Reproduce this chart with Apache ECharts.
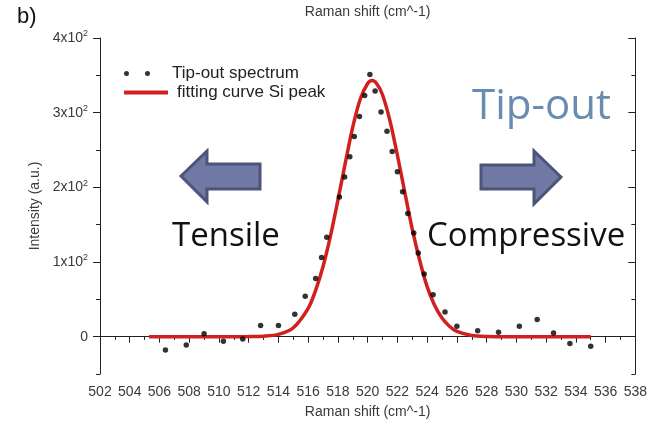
<!DOCTYPE html>
<html>
<head>
<meta charset="utf-8">
<script src="https://cdn.jsdelivr.net/npm/echarts@6/dist/echarts.min.js"></script>
<style>
  html, body { margin: 0; padding: 0; background: #fff; }
  #chart { width: 650px; height: 425px; }
</style>
</head>
<body>
<div id="chart"></div>
<script>
// Measured Raman spectrum (tip retracted)
const spectrumX = [506.4, 507.8, 509.0, 510.3, 511.6, 512.8, 514.0, 515.1, 515.8, 516.5, 516.9, 517.25,
  518.1, 518.45, 518.8, 519.1, 519.45, 519.8, 520.15, 520.5, 520.9, 521.3, 521.65, 522.0, 522.35,
  522.7, 523.1, 523.4, 523.8, 524.4, 525.2, 526.0, 527.4, 528.8, 530.2, 531.4, 532.5, 533.6, 535.0];
const spectrumY = [-18, -11, 4, -6, -3, 15, 15, 30, 54, 78, 106, 133,
  187, 214, 241, 268, 295, 323, 351, 329, 301, 275, 248, 221, 194,
  165, 139, 112, 84, 56, 33, 14, 8, 6, 14, 23, 5, -9, -13];

// Fitted Si peak
const fitX = [505.3, 511, 512, 513, 514, 515, 516, 516.5, 517, 517.5, 518, 518.5, 519, 519.5, 520,
  520.3, 520.6, 521, 521.5, 522, 522.5, 523, 523.5, 524, 524.5, 525, 525.5, 526, 527, 528, 529, 535];
const fitY = [0, 0, 0.1, 0.6, 3, 12, 38, 62, 94, 135, 183, 233, 281, 318, 339,
  343, 339, 324, 289, 243, 193, 144, 102, 67, 42, 25, 14, 7, 1.6, 0.2, 0, 0];

// Axis ticks
const yMajorTicks = [0, 100, 200, 300, 400];
const yMinorTicks = [-50, 50, 150, 250, 350];
const xRange = [502, 538];
const yRange = [-50, 400];

const seriesNames = ['Tip-out spectrum', 'fitting curve Si peak'];

const axisFont = 'Liberation Sans, Arial, sans-serif';
const axisColor = '#222';
const labelColor = '#3a3a3a';

function yLabel(v) {
  if (v === 0) return '0';
  return '{b|' + (v / 100) + 'x10}{s|2}';
}

const chart = echarts.init(document.getElementById('chart'), null, { renderer: 'canvas' });

const yCommon = {
  type: 'value', min: yRange[0], max: yRange[1],
  splitLine: { show: false }
};

chart.setOption({
  backgroundColor: '#fff',
  animation: false,
  grid: { left: 100, right: 14, top: 38, bottom: 51 },
  legend: [
    {
      data: [{ name: seriesNames[0], icon: 'path://M0,2.5a2.5,2.5 0 1,0 5,0a2.5,2.5 0 1,0 -5,0zM21,2.5a2.5,2.5 0 1,0 5,0a2.5,2.5 0 1,0 -5,0z' }],
      left: 119, top: 60, itemWidth: 26, itemHeight: 5,
      textStyle: { fontFamily: axisFont, fontSize: 17, color: '#222', padding: [0, 0, 0, 17] }
    },
    {
      data: [{ name: seriesNames[1], icon: 'rect' }],
      left: 119, top: 79, itemWidth: 44, itemHeight: 4,
      textStyle: { fontFamily: axisFont, fontSize: 17, color: '#222', padding: [0, 0, 0, 4] }
    }
  ],
  xAxis: [
    {
      type: 'value', position: 'bottom', min: xRange[0], max: xRange[1], interval: 2,
      name: 'Raman shift (cm^-1)', nameLocation: 'middle', nameGap: 31,
      nameTextStyle: { fontFamily: axisFont, fontSize: 14, color: labelColor },
      axisLine: { lineStyle: { color: axisColor, width: 1 } },
      axisTick: { inside: false, length: 5, lineStyle: { color: axisColor } },
      minorTick: { show: true, splitNumber: 2, length: 3, lineStyle: { color: axisColor } },
      axisLabel: { fontFamily: axisFont, fontSize: 14, color: labelColor, margin: 11 },
      splitLine: { show: false }
    },
    {
      type: 'value', position: 'top', min: xRange[0], max: xRange[1], interval: 2,
      name: 'Raman shift (cm^-1)', nameLocation: 'middle', nameGap: 19,
      nameTextStyle: { fontFamily: axisFont, fontSize: 14, color: labelColor },
      axisLine: { lineStyle: { color: axisColor, width: 1 } },
      axisTick: { inside: true, length: 6, lineStyle: { color: axisColor } },
      minorTick: { show: true, splitNumber: 2, length: 3, lineStyle: { color: axisColor } },
      axisLabel: { show: false },
      splitLine: { show: false }
    }
  ],
  yAxis: [
    Object.assign({}, yCommon, {
      position: 'left',
      name: 'Intensity (a.u.)', nameLocation: 'middle', nameGap: 52,
      nameTextStyle: { fontFamily: axisFont, fontSize: 14, color: labelColor },
      axisLine: { show: true, lineStyle: { color: axisColor, width: 1 } },
      axisTick: { show: true, length: 7, customValues: yMajorTicks, lineStyle: { color: axisColor } },
      axisLabel: {
        customValues: yMajorTicks, margin: 12, formatter: yLabel,
        fontFamily: axisFont, fontSize: 14, color: labelColor,
        rich: {
          b: { fontFamily: axisFont, fontSize: 14, color: labelColor },
          s: { fontFamily: axisFont, fontSize: 9, color: labelColor, verticalAlign: 'top', padding: [0, 0, 8, 0] }
        }
      }
    }),
    Object.assign({}, yCommon, {
      position: 'left',
      axisLine: { show: false },
      axisTick: { show: true, length: 4, customValues: yMinorTicks, lineStyle: { color: axisColor } },
      axisLabel: { show: false }
    }),
    Object.assign({}, yCommon, {
      position: 'right',
      axisLine: { show: true, lineStyle: { color: axisColor, width: 1 } },
      axisTick: { show: true, inside: true, length: 7, customValues: yMajorTicks, lineStyle: { color: axisColor } },
      axisLabel: { show: false }
    }),
    Object.assign({}, yCommon, {
      position: 'right',
      axisLine: { show: false },
      axisTick: { show: true, inside: true, length: 4, customValues: yMinorTicks, lineStyle: { color: axisColor } },
      axisLabel: { show: false }
    })
  ],
  graphic: [
    { type: 'text', left: 17, top: 6, style: { text: 'b)', fontFamily: axisFont, fontSize: 22, fill: '#111' } },
    {
      type: 'polygon', z: 10,
      shape: { points: [[181, 176], [207, 151], [207, 164], [260, 164], [260, 189], [207, 189], [207, 202]] },
      style: { fill: '#6f79a3', stroke: '#4c5479', lineWidth: 3, lineJoin: 'miter' }
    },
    {
      type: 'polygon', z: 10,
      shape: { points: [[561, 177], [534, 151], [534, 165], [481, 165], [481, 189], [534, 189], [534, 204]] },
      style: { fill: '#6f79a3', stroke: '#4c5479', lineWidth: 3, lineJoin: 'miter' }
    },
    { type: 'text', z: 10, x: 172, y: 237, style: { text: 'Tensile', fontFamily: 'Open Sans', fontSize: 33, fill: '#111', textVerticalAlign: 'middle' } },
    { type: 'text', z: 10, x: 427, y: 237, style: { text: 'Compressive', fontFamily: 'Open Sans', fontSize: 33, fill: '#111', textVerticalAlign: 'middle' } },
    { type: 'text', z: 10, x: 472, y: 107, style: { text: 'Tip-out', fontFamily: 'Open Sans', fontSize: 42, fill: '#6a8cb0', textVerticalAlign: 'middle' } }
  ],
  series: [
    {
      name: seriesNames[1], type: 'line', xAxisIndex: 0, yAxisIndex: 0,
      data: fitX.map((x, i) => [x, fitY[i]]),
      smooth: 0.3, showSymbol: false, symbol: 'none',
      lineStyle: { color: '#d21f1f', width: 3.5 },
      itemStyle: { color: '#d21f1f' },
      z: 2
    },
    {
      name: seriesNames[0], type: 'scatter', xAxisIndex: 0, yAxisIndex: 0,
      data: spectrumX.map((x, i) => [x, spectrumY[i]]),
      symbol: 'circle', symbolSize: 5.5,
      itemStyle: { color: '#000' },
      z: 3
    }
  ]
});
</script>
</body>
</html>
